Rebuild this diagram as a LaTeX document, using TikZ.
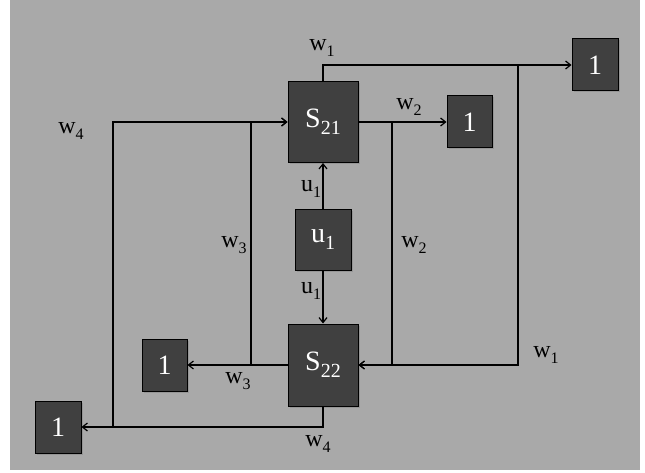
\documentclass[tikz,border=0pt]{standalone}
\usepackage{fontspec}
\setmainfont{Liberation Serif}
\usetikzlibrary{arrows.meta,shadows}
\definecolor{bggray}{HTML}{A9A9A9}
\definecolor{boxfill}{HTML}{404040}
\newcommand\lbl[2]{#1\raisebox{-6pt}{\fontsize{16}{16}\selectfont #2}}
\newcommand\blbl[2]{#1\raisebox{-7pt}{\fontsize{20}{20}\selectfont #2}}
\tikzset{
  blk/.style={draw=black, line width=1pt, fill=boxfill, text=white, inner sep=0pt,
    font=\fontsize{28}{28}\selectfont,
    drop shadow={shadow xshift=1.5pt, shadow yshift=-1.5pt, opacity=0.45}},
  conn/.style={draw=black, line width=1.3pt},
  arr/.style={conn, -{Straight Barb[length=5pt,width=8pt,line width=1.2pt]}},
  lab/.style={text=black, inner sep=0pt, font=\fontsize{24}{24}\selectfont}
}
\begin{document}
\begin{tikzpicture}[x=1pt,y=-1pt]
\useasboundingbox (0,0) rectangle (645,473);
\fill[bggray] (10,0) rectangle (640,470);
% boxes
\node[blk, minimum width=70pt, minimum height=81pt] (S21) at (323,122) {\blbl{S}{21}};
\node[blk, minimum width=70pt, minimum height=82pt] (S22) at (323,365) {\blbl{S}{22}};
\node[blk, minimum width=56pt, minimum height=60pt] (U) at (323,240) {\blbl{u}{1}};
\node[blk, minimum width=46pt, minimum height=52pt] (TR) at (595,65) {1};
\node[blk, minimum width=45pt, minimum height=52pt] (MR) at (469.5,122) {1};
\node[blk, minimum width=45pt, minimum height=52pt] (LM) at (164.5,365) {1};
\node[blk, minimum width=46pt, minimum height=52pt] (BL) at (58,427) {1};
% junction coordinates
\coordinate (j1) at (518,65);
\coordinate (j2) at (392,122);
\coordinate (j3) at (251,365);
\coordinate (j4) at (113,427);
% connectors
\draw[arr] (S21.north) |- (TR.west);
\draw[arr] (j1) |- (S22.east);
\draw[arr] (S21.east) -- (MR.west);
\draw[arr] (j2) |- (S22.east);
\draw[arr] (S22.west) -- (LM.east);
\draw[arr] (j3) |- (S21.west);
\draw[arr] (S22.south) |- (BL.east);
\draw[arr] (j4) |- (S21.west);
\draw[arr] (U.north) -- (S21.south);
\draw[arr] (U.south) -- (S22.north);
% labels
\node[lab] (lw1a) at (322,48) {\lbl{w}{1}};
\node[lab] (lw2a) at (409,107) {\lbl{w}{2}};
\node[lab] (lw4a) at (71,131) {\lbl{w}{4}};
\node[lab] (lw3a) at (234,245) {\lbl{w}{3}};
\node[lab] (lw2b) at (414,245) {\lbl{w}{2}};
\node[lab] (lu1a) at (311,189) {\lbl{u}{1}};
\node[lab] (lu1b) at (311,291) {\lbl{u}{1}};
\node[lab] (lw1b) at (546,355) {\lbl{w}{1}};
\node[lab] (lw3b) at (238,381) {\lbl{w}{3}};
\node[lab] (lw4b) at (318,444) {\lbl{w}{4}};
\end{tikzpicture}
\end{document}
